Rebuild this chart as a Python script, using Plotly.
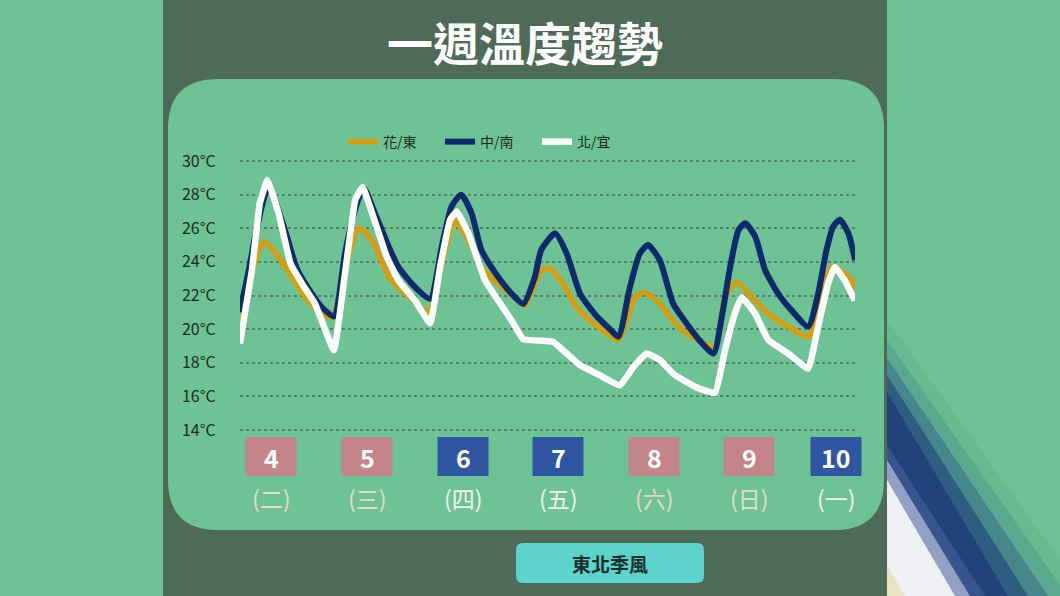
import plotly.graph_objects as go

# hours counted from the 4th 00:00, temperature in deg C
hua_hours = [4.2, 7.0, 10.2, 13.9, 17.3, 20.6, 24.0, 27.3, 30.6, 34.0, 37.4, 41.6, 45.7, 49.0, 51.5,
             55.0, 58.2, 61.6, 64.9, 69.1, 74.1, 75.8, 80.0, 82.1, 85.4, 88.8, 93.0, 96.4, 99.3, 103.5,
             105.6, 109.0, 113.1, 116.4, 121.0, 123.6, 126.1, 129.0, 132.8, 137.0, 142.0, 147.0, 149.9,
             152.8, 154.5, 157.9, 158.8]
hua_temp = [20.35, 23.2, 25.2, 24.3, 23.1, 21.9, 21.1, 20.65, 23.5, 26.0, 25.3, 23.1, 22.1, 21.5, 20.9,
            24.0, 26.4, 25.3, 23.7, 22.7, 21.7, 21.4, 23.5, 23.6, 22.7, 21.3, 20.35, 19.75, 19.35, 21.9,
            22.2, 21.7, 20.5, 19.75, 19.15, 18.95, 21.9, 22.8, 21.9, 20.9, 20.15, 19.55, 21.5,
            23.7, 23.6, 22.9, 22.4]

south_hours = [4.2, 6.4, 8.0, 9.7, 11.4, 15.5, 18.5, 22.3, 24.8, 27.8, 30.6, 33.1, 35.3, 38.1, 41.6,
               44.0, 48.2, 52.0, 54.9, 57.4, 59.8, 62.4, 64.9, 69.1, 72.5, 75.4, 78.3, 79.9, 83.4, 86.3,
               89.7, 93.9, 97.2, 99.3, 102.2, 104.7, 106.8, 109.7, 113.1, 116.4, 119.8, 123.2, 125.3,
               127.4, 129.5, 131.2, 133.7, 136.2, 139.5, 142.9, 147.0, 149.5, 151.6, 153.3, 155.0,
               157.1, 158.8]
south_temp = [21.0, 23.5, 25.5, 27.3, 28.5, 25.9, 23.6, 22.1, 21.3, 20.75, 24.5, 27.1, 28.4, 26.9, 24.9,
              23.7, 22.5, 21.8, 24.9, 27.3, 28.0, 26.9, 24.7, 23.1, 22.1, 21.5, 23.1, 24.7, 25.7, 24.5,
              22.1, 20.75, 20.0, 19.55, 22.5, 24.5, 25.0, 24.1, 21.5, 20.35, 19.3, 18.55, 20.75,
              23.7, 25.9, 26.3, 25.5, 23.5, 22.1, 21.1, 20.15, 22.1, 24.7, 26.1, 26.5,
              25.7, 24.1]

north_hours = [4.2, 7.2, 9.2, 11.1, 13.9, 16.9, 19.8, 23.1, 27.8, 30.7, 33.2, 35.0, 37.7, 41.1, 44.0,
               48.2, 52.0, 54.5, 57.0, 58.7, 61.6, 65.8, 69.1, 72.5, 75.4, 80.9, 82.9, 86.3, 89.7, 94.7,
               99.7, 103.1, 106.4, 109.8, 113.1, 116.5, 119.8, 123.6, 126.1, 128.6, 130.3, 133.6, 137.0,
               142.0, 147.0, 149.5, 152.0, 153.7, 156.2, 158.7]
north_temp = [19.15, 23.5, 27.5, 28.87, 26.9, 23.9, 22.7, 21.5, 18.75, 23.5, 27.7, 28.45, 26.7, 24.3, 22.9,
              21.7, 20.35, 23.7, 26.5, 27.0, 25.7, 22.9, 21.7, 20.5, 19.4, 19.3, 19.25, 18.55, 17.85, 17.25,
              16.65, 17.75, 18.55, 18.15, 17.35, 16.85, 16.45, 16.2, 18.75, 20.95, 21.9, 20.95, 19.35,
              18.55, 17.65, 20.15, 22.7, 23.7, 22.9, 21.7]

days = ["4", "5", "6", "7", "8", "9", "10"]
weekdays = ["(二)", "(三)", "(四)", "(五)", "(六)", "(日)", "(一)"]
holiday = [False, False, True, True, False, False, True]

W, H = 1060, 596
L, R, T, B = 240, 205, 159, 164
PW = W - L - R
PH = H - T - B
FONT = "Noto Sans CJK TC"


def px(x):
    return (x - L) / PW


def py(y):
    return (H - B - y) / PH


def rounded(x0, y0, x1, y1, r):
    return (f"M {px(x0 + r)},{py(y0)} L {px(x1 - r)},{py(y0)} Q {px(x1)},{py(y0)} {px(x1)},{py(y0 + r)} "
            f"L {px(x1)},{py(y1 - r)} Q {px(x1)},{py(y1)} {px(x1 - r)},{py(y1)} "
            f"L {px(x0 + r)},{py(y1)} Q {px(x0)},{py(y1)} {px(x0)},{py(y1 - r)} "
            f"L {px(x0)},{py(y0 + r)} Q {px(x0)},{py(y0)} {px(x0 + r)},{py(y0)} Z")


def poly(pts):
    return "M " + " L ".join(f"{px(a)},{py(b)}" for a, b in pts) + " Z"


fig = go.Figure()
fig.add_trace(go.Scatter(x=hua_hours, y=hua_temp, mode="lines", name="花/東",
                         line=dict(color="#D89D0C", width=5.5, shape="spline", smoothing=0.6)))
fig.add_trace(go.Scatter(x=south_hours, y=south_temp, mode="lines", name="中/南",
                         line=dict(color="#0B2B6C", width=6, shape="spline", smoothing=0.6)))
fig.add_trace(go.Scatter(x=north_hours, y=north_temp, mode="lines", name="北/宜",
                         line=dict(color="#FFFFFF", width=6.5, shape="spline", smoothing=0.3)))

shapes = [
    # dark centre column
    dict(type="rect", x0=px(163), x1=px(887), y0=py(596), y1=py(0), fillcolor="#4E6A59", line_width=0),
    # rounded chart panel
    dict(type="path", path=rounded(168, 79, 884, 530, 50), fillcolor="#6DC393", line_width=0),
    # wind button
    dict(type="path", path=rounded(516, 543, 704, 583, 7), fillcolor="#5DD3CB", line_width=0),
]
# blurred streak on the right edge, faked with stacked translucent bands
streak = [
    ([(887, 320), (1060, 560), (1060, 596), (887, 596)], "#4E9A8A", 0.2),
    ([(887, 340), (1060, 585), (1060, 596), (887, 596)], "#3E7F88", 0.3),
    ([(887, 358), (1048, 596), (887, 596)], "#2F5E84", 0.45),
    ([(887, 375), (1028, 596), (887, 596)], "#24477C", 0.65),
    ([(887, 392), (1008, 596), (887, 596)], "#1D3E78", 0.85),
    ([(887, 445), (985, 596), (887, 596)], "#4E66A0", 0.5),
    ([(887, 460), (970, 596), (887, 596)], "#A9B3D3", 0.8),
    ([(887, 480), (955, 596), (887, 596)], "#EEF0F4", 1.0),
    ([(887, 565), (905, 596), (887, 596)], "#E9DDA8", 0.7),
]
for pts, col, op in streak:
    shapes.append(dict(type="path", path=poly(pts), fillcolor=col, opacity=op, line_width=0))
for s in shapes:
    s.update(xref="paper", yref="paper", layer="below")

centers = [271, 367, 463, 558, 654, 749, 836]
annotations = []
for cx, d, wd, hol in zip(centers, days, weekdays, holiday):
    shapes.append(dict(type="rect", xref="paper", yref="paper", layer="below",
                       x0=px(cx - 25.5), x1=px(cx + 25.5), y0=py(476), y1=py(437),
                       fillcolor="#2F56A0" if hol else "#C48588", line_width=0))
    annotations.append(dict(x=px(cx), y=py(456.5), xref="paper", yref="paper", text=f"<b>{d}</b>",
                            xanchor="center", yanchor="middle", showarrow=False,
                            font=dict(family=FONT, size=25, color="white")))
    annotations.append(dict(x=px(cx), y=py(498), xref="paper", yref="paper", text=wd,
                            xanchor="center", yanchor="middle", showarrow=False,
                            font=dict(family=FONT, size=23, color="#F4F4EC" if hol else "#E6DCC6")))

annotations.append(dict(x=px(610), y=py(563), xref="paper", yref="paper", text="<b>東北季風</b>",
                        xanchor="center", yanchor="middle", showarrow=False,
                        font=dict(family=FONT, size=19, color="#16302B")))

fig.update_layout(
    width=W, height=H,
    margin=dict(l=L, r=R, t=T, b=B),
    paper_bgcolor="#6DC393",
    plot_bgcolor="rgba(0,0,0,0)",
    title=dict(text="<b>一週溫度趨勢</b>", x=525 / W, y=1 - 45 / H, xanchor="center", yanchor="middle",
               font=dict(family=FONT, size=46, color="white")),
    font=dict(family=FONT, color="#1C2B22"),
    shapes=shapes,
    annotations=annotations,
    showlegend=True,
    legend=dict(orientation="h", x=px(343), y=py(142), xanchor="left", yanchor="middle",
                bgcolor="rgba(0,0,0,0)", font=dict(family=FONT, size=14, color="#1C2B22"),
                entrywidth=52, entrywidthmode="pixels", itemwidth=30),
    xaxis=dict(range=[4.21, 158.77], visible=False),
    yaxis=dict(range=[13.881, 30.119], tickmode="linear", tick0=14, dtick=2, ticksuffix="°C",
               showgrid=True, gridcolor="#5D7E6A", gridwidth=1.5, griddash="dot",
               zeroline=False, showline=False, ticks="outside", ticklen=20,
               tickcolor="rgba(0,0,0,0)", tickfont=dict(family=FONT, size=16, color="#1C2B22")),
)

fig.write_html("out.html", config={"displayModeBar": False},
               post_script="document.body.style.margin='0';")
